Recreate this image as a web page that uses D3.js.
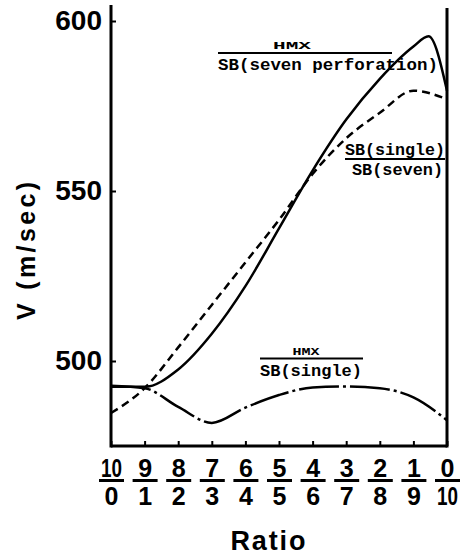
<!DOCTYPE html>
<html>
<head>
<meta charset="utf-8">
<script src="https://cdn.jsdelivr.net/npm/d3@7"></script>
<style>
  body { margin: 0; background: #fff; }
  svg { display: block; }
</style>
</head>
<body>
<div class="plot"></div>
<script>
"use strict";

// ratio index 0..10 -> 10/0 ... 0/10
const ratioTop = ["10", "9", "8", "7", "6", "5", "4", "3", "2", "1", "0"];
const ratioBottom = ["0", "1", "2", "3", "4", "5", "6", "7", "8", "9", "10"];
const yTicks = [500, 550, 600];

// HMX / SB(seven perforation)  (solid)
const solidX = [0, 1, 2, 3, 4, 5, 6, 7, 8, 9, 9.45, 10];
const solidV = [492.4, 492.4, 497.5, 508, 522, 539, 556, 571, 583, 592.5, 595.5, 579.5];

// SB(single) / SB(seven)  (dashed)
const dashedX = [0, 1, 2, 3, 4, 5, 6, 7, 8, 9, 10];
const dashedV = [484.7, 492, 504, 516.5, 529, 541.5, 555, 565.5, 573, 579.5, 577];

// HMX / SB(single)  (dash-dot)
const dotX = [0, 1, 2, 3, 4, 5, 6, 7, 8, 9, 10];
const dotV = [492.7, 492, 486.5, 481.8, 486.3, 490, 492.2, 492.5, 492, 489.3, 482.6];

const W = 464, H = 557;
var svg = d3.select(".plot").append("svg")
    .attr("width", W)
    .attr("height", H);

var x = d3.scaleLinear().domain([0, 10]).range([111, 447]);
var y = d3.scaleLinear().domain([475, 600]).range([446, 21]);

// curves
var line = (xs, vs) => d3.line()
    .x((d, i) => x(xs[i]))
    .y(d => y(d))
    .curve(d3.curveMonotoneX)(vs);

svg.append("path")
    .attr("d", line(solidX, solidV))
    .attr("fill", "none")
    .attr("stroke", "#000")
    .attr("stroke-width", 2.5);

svg.append("path")
    .attr("d", line(dashedX, dashedV))
    .attr("fill", "none")
    .attr("stroke", "#000")
    .attr("stroke-width", 2.5)
    .attr("stroke-dasharray", "8,5");

svg.append("path")
    .attr("d", line(dotX, dotV))
    .attr("fill", "none")
    .attr("stroke", "#000")
    .attr("stroke-width", 2.5)
    .attr("stroke-dasharray", "40,4,3,4");

// y axis
var yAxis = svg.append("g")
    .attr("transform", "translate(" + x(0) + ",0)")
    .call(d3.axisLeft(y).tickValues(yTicks).tickSizeInner(-5).tickSizeOuter(0).tickPadding(9));
yAxis.select(".domain").remove();
yAxis.selectAll(".tick line").attr("stroke-width", 2);
yAxis.selectAll(".tick text")
    .attr("font-family", "'Liberation Sans', Arial, sans-serif")
    .attr("font-weight", "bold")
    .attr("font-size", 28)
    .attr("fill", "#000");

// x axis
var xAxis = svg.append("g")
    .attr("transform", "translate(0," + y(475) + ")")
    .call(d3.axisBottom(x).ticks(10).tickSizeInner(-5).tickSizeOuter(0).tickFormat(""));
xAxis.select(".domain").remove();
xAxis.selectAll(".tick line").attr("stroke-width", 2);

var frac = xAxis.selectAll(".tick");
frac.append("text")
    .attr("y", 31)
    .attr("text-anchor", "middle")
    .attr("font-family", "'Liberation Sans', Arial, sans-serif")
    .attr("font-weight", "bold")
    .attr("font-size", 25)
    .attr("fill", "#000")
    .each(function (d) {
        var t = ratioTop[d];
        d3.select(this).text(t);
        if (t.length > 1) d3.select(this).attr("textLength", 21).attr("lengthAdjust", "spacingAndGlyphs");
    });
frac.append("line")
    .attr("x1", -12.5).attr("x2", 12.5)
    .attr("y1", 34.5).attr("y2", 34.5)
    .attr("stroke", "#000")
    .attr("stroke-width", 3);
frac.append("text")
    .attr("y", 59)
    .attr("text-anchor", "middle")
    .attr("font-family", "'Liberation Sans', Arial, sans-serif")
    .attr("font-weight", "bold")
    .attr("font-size", 25)
    .attr("fill", "#000")
    .each(function (d) {
        var t = ratioBottom[d];
        d3.select(this).text(t);
        if (t.length > 1) d3.select(this).attr("textLength", 21).attr("lengthAdjust", "spacingAndGlyphs");
    });

// frame lines (left, right, bottom)
svg.append("line")
    .attr("x1", x(0)).attr("x2", x(0))
    .attr("y1", 5).attr("y2", y(475) + 1.5)
    .attr("stroke", "#000").attr("stroke-width", 3);
svg.append("line")
    .attr("x1", x(10)).attr("x2", x(10))
    .attr("y1", 8).attr("y2", y(475) + 1.5)
    .attr("stroke", "#000").attr("stroke-width", 3);
svg.append("line")
    .attr("x1", x(0)).attr("x2", x(10))
    .attr("y1", y(475)).attr("y2", y(475))
    .attr("stroke", "#000").attr("stroke-width", 3);

// axis titles
svg.append("text")
    .attr("transform", "translate(35,251) rotate(-90)")
    .attr("text-anchor", "middle")
    .attr("font-family", "'Liberation Sans', Arial, sans-serif")
    .attr("font-weight", "bold")
    .attr("font-size", 25)
    .attr("textLength", 138)
    .text("V (m/sec)");

svg.append("text")
    .attr("x", 268)
    .attr("y", 550)
    .attr("text-anchor", "middle")
    .attr("font-family", "'Liberation Sans', Arial, sans-serif")
    .attr("font-weight", "bold")
    .attr("font-size", 27)
    .attr("textLength", 75)
    .text("Ratio");

// curve labels (fractions)
const mono = "'Liberation Mono', 'Courier New', monospace";
function label(cx, top, bottom, barX1, barX2, barY, topW, botX, botW) {
    svg.append("text")
        .attr("x", cx).attr("y", barY - 4)
        .attr("text-anchor", "middle")
        .attr("font-family", mono)
        .attr("font-weight", "bold")
        .attr("font-size", 11)
        .attr("textLength", topW)
        .attr("lengthAdjust", "spacingAndGlyphs")
        .text(top);
    svg.append("line")
        .attr("x1", barX1).attr("x2", barX2)
        .attr("y1", barY).attr("y2", barY)
        .attr("stroke", "#000").attr("stroke-width", 2);
    svg.append("text")
        .attr("x", botX).attr("y", barY + 17)
        .attr("font-family", mono)
        .attr("font-weight", "bold")
        .attr("font-size", 17)
        .attr("textLength", botW)
        .attr("lengthAdjust", "spacingAndGlyphs")
        .text(bottom);
}

label(292, "HMX", "SB(seven perforation)", 218, 392, 53, 38, 218, 220);
label(306, "HMX", "SB(single)", 260, 363, 358.5, 27, 260, 102);

// SB(single) / SB(seven)
svg.append("text")
    .attr("x", 345).attr("y", 155)
    .attr("font-family", mono)
    .attr("font-weight", "bold")
    .attr("font-size", 17)
    .attr("textLength", 100)
    .attr("lengthAdjust", "spacingAndGlyphs")
    .text("SB(single)");
svg.append("line")
    .attr("x1", 345).attr("x2", 445)
    .attr("y1", 159).attr("y2", 159)
    .attr("stroke", "#000").attr("stroke-width", 2);
svg.append("text")
    .attr("x", 352).attr("y", 175)
    .attr("font-family", mono)
    .attr("font-weight", "bold")
    .attr("font-size", 17)
    .attr("textLength", 91)
    .attr("lengthAdjust", "spacingAndGlyphs")
    .text("SB(seven)");
</script>
</body>
</html>
